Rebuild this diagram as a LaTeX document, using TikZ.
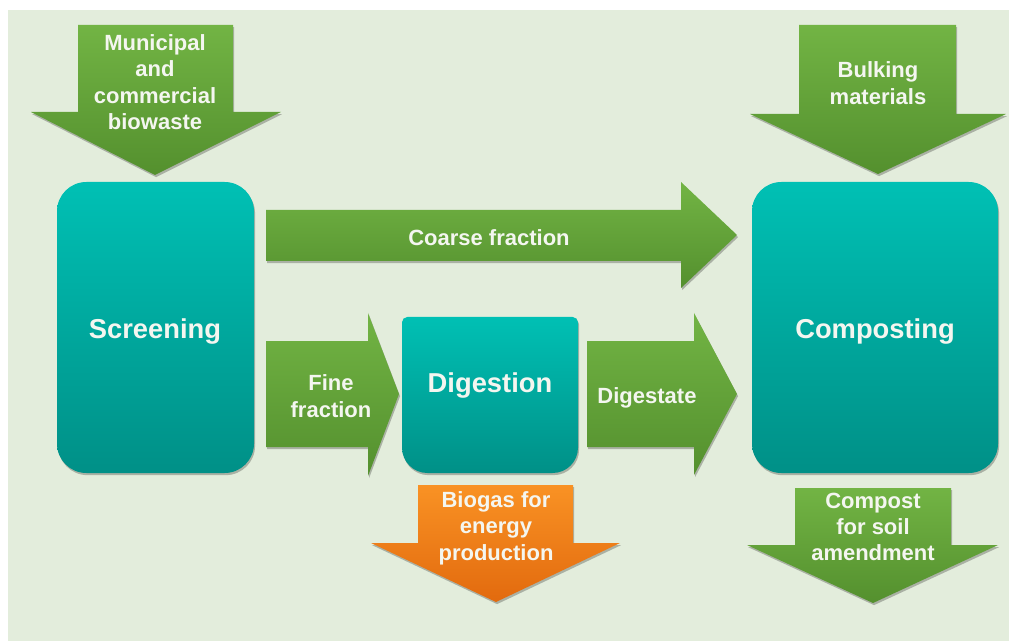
\documentclass[tikz,border=0pt]{standalone}
\usepackage{fontspec}
\setmainfont{Liberation Sans}
\usetikzlibrary{shadows}
\definecolor{bg}{RGB}{227,237,220}
\definecolor{gtop}{RGB}{114,180,68}
\definecolor{gbot}{RGB}{84,144,46}
\definecolor{ttop}{RGB}{0,192,180}
\definecolor{tbot}{RGB}{0,144,135}
\definecolor{otop}{RGB}{249,146,36}
\definecolor{obot}{RGB}{226,106,14}
\definecolor{txt}{RGB}{244,246,240}
\begin{document}
\begin{tikzpicture}[x=0.75pt,y=-0.75pt,
  shd/.style={drop shadow={shadow xshift=0.8pt,shadow yshift=-1.6pt,opacity=0.25,fill=black}},
  greenarrow/.style={top color=gtop,bottom color=gbot,shd},
  orangearrow/.style={top color=otop,bottom color=obot,shd},
  tealbox/.style={top color=ttop,bottom color=tbot,shd},
  big/.style={font=\bfseries\fontsize{20.5}{24}\selectfont,text=txt,align=center},
  small/.style={font=\bfseries\fontsize{16.5}{19.8}\selectfont,text=txt,align=center}]
\useasboundingbox (0,0) rectangle (1009,641);
\fill[white] (0,0) rectangle (1009,641);
\fill[bg] (8,10) rectangle (1009,641);
% boxes
\path[tealbox,rounded corners=22pt] (57,182) rectangle (254,473);
\node[big] (screen) at (155,331) {Screening};
\path[tealbox,rounded corners=22pt] (752,182) rectangle (998,473);
\node[big] (compost) at (875,331) {Composting};
\path[tealbox] (490,317) [rounded corners=4pt] -- (578,317) [rounded corners=19pt] -- (578,473) -- (402,473) [rounded corners=4pt] -- (402,317) -- cycle;
\node[big] (digest) at (490,385) {Digestion};
% input arrows
\path[greenarrow] (78,25) -- (233,25) -- (233,112) -- (281,112) -- (155,175) -- (31,112) -- (78,112) -- cycle;
\node[small] (muni) at (155,82) {Municipal\\and\\commercial\\biowaste};
\path[greenarrow] (799,25) -- (956,25) -- (956,114) -- (1006,114) -- (878,174) -- (750,114) -- (799,114) -- cycle;
\node[small] (bulk) at (878,83) {Bulking\\materials};
% flow arrows
\path[greenarrow] (266,210) -- (681,210) -- (681,182) -- (737,235) -- (681,288) -- (681,261) -- (266,261) -- cycle;
\node[small] (coarse) at (489,238) {Coarse fraction};
\path[greenarrow] (266,341) -- (368,341) -- (368,313) -- (399,394) -- (368,476) -- (368,447) -- (266,447) -- cycle;
\node[small] (fine) at (331,396) {Fine\\fraction};
\path[greenarrow] (587,341) -- (694,341) -- (694,313) -- (737,394) -- (694,475) -- (694,447) -- (587,447) -- cycle;
\node[small] (digestate) at (647,398) {Digestate};
% output arrows
\path[orangearrow] (418,485) -- (573,485) -- (573,543) -- (620,543) -- (496,602) -- (371,543) -- (418,543) -- cycle;
\node[small] (biogas) at (496,528) {Biogas for\\energy\\production};
\path[greenarrow] (795,488) -- (951,488) -- (951,545) -- (998,545) -- (873,603) -- (747,545) -- (795,545) -- cycle;
\node[small] (soil) at (873,527) {Compost\\for soil\\amendment};
\end{tikzpicture}
\end{document}
